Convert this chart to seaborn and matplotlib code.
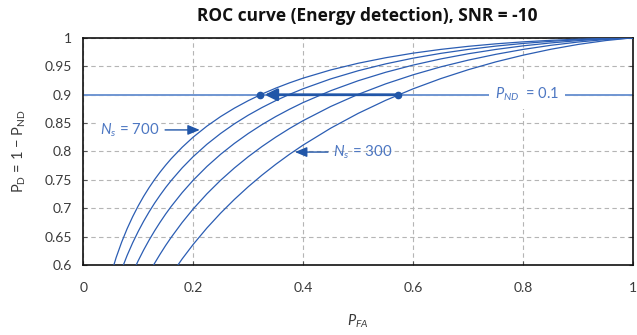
import matplotlib
matplotlib.use("Agg")
import matplotlib.pyplot as plt
import seaborn as sns
import pandas as pd

# ---- data ----
pfa = [0.01, 0.02, 0.03, 0.04, 0.05, 0.06, 0.07, 0.08, 0.09, 0.10, 0.11, 0.12, 0.13,
       0.14, 0.15, 0.16, 0.18, 0.20, 0.225, 0.25, 0.275, 0.30, 0.325, 0.35, 0.375,
       0.40, 0.45, 0.50, 0.55, 0.60, 0.65, 0.70, 0.75, 0.80, 0.85, 0.90, 0.95, 0.99, 1.00]
pd_300 = [0.1583, 0.2255, 0.2754, 0.3163, 0.3512, 0.3820, 0.4097, 0.4349, 0.4580, 0.4794, 0.4994,
          0.5180, 0.5356, 0.5522, 0.5680, 0.5829, 0.6107, 0.6362, 0.6652, 0.6915, 0.7156, 0.7378,
          0.7583, 0.7773, 0.7950, 0.8114, 0.8411, 0.8672, 0.8902, 0.9105, 0.9284, 0.9441, 0.9579,
          0.9698, 0.9801, 0.9887, 0.9955, 0.9994, 1.0]
pd_400 = [0.2035, 0.2805, 0.3357, 0.3798, 0.4170, 0.4492, 0.4777, 0.5033, 0.5266, 0.5480, 0.5677,
          0.5861, 0.6032, 0.6192, 0.6344, 0.6486, 0.6749, 0.6987, 0.7254, 0.7494, 0.7710, 0.7907,
          0.8087, 0.8252, 0.8404, 0.8544, 0.8793, 0.9007, 0.9192, 0.9352, 0.9491, 0.9610, 0.9712,
          0.9799, 0.9871, 0.9929, 0.9973, 0.9997, 1.0]
pd_500 = [0.2491, 0.3337, 0.3926, 0.4387, 0.4769, 0.5095, 0.5381, 0.5636, 0.5865, 0.6073, 0.6264,
          0.6440, 0.6603, 0.6755, 0.6898, 0.7031, 0.7275, 0.7493, 0.7736, 0.7951, 0.8143, 0.8316,
          0.8473, 0.8615, 0.8744, 0.8863, 0.9071, 0.9247, 0.9396, 0.9523, 0.9631, 0.9722, 0.9798,
          0.9862, 0.9913, 0.9954, 0.9983, 0.9998, 1.0]
pd_600 = [0.2945, 0.3850, 0.4462, 0.4933, 0.5316, 0.5640, 0.5921, 0.6169, 0.6390, 0.6589, 0.6771,
          0.6937, 0.7091, 0.7232, 0.7365, 0.7487, 0.7711, 0.7909, 0.8127, 0.8318, 0.8488, 0.8639,
          0.8774, 0.8896, 0.9006, 0.9106, 0.9279, 0.9423, 0.9544, 0.9645, 0.9729, 0.9799, 0.9857,
          0.9904, 0.9941, 0.9969, 0.9989, 0.9999, 1.0]
pd_700 = [0.3394, 0.4340, 0.4964, 0.5435, 0.5814, 0.6131, 0.6402, 0.6640, 0.6850, 0.7039, 0.7210,
          0.7365, 0.7507, 0.7638, 0.7759, 0.7872, 0.8074, 0.8253, 0.8447, 0.8616, 0.8764, 0.8895,
          0.9012, 0.9116, 0.9209, 0.9293, 0.9437, 0.9555, 0.9652, 0.9733, 0.9799, 0.9853, 0.9897,
          0.9932, 0.9959, 0.9979, 0.9993, 0.9999, 1.0]
n_samples = [300, 400, 500, 600, 700]
pd_target = 0.9
pfa_op = [0.322, 0.573]   # operating points for Ns=700 and Ns=300
xticks = [0, 0.2, 0.4, 0.6, 0.8, 1]
xticklabels = ["0", "0.2", "0.4", "0.6", "0.8", "1"]
yticks = [0.6, 0.65, 0.7, 0.75, 0.8, 0.85, 0.9, 0.95, 1.0]
yticklabels = ["0.6", "0.65", "0.7", "0.75", "0.8", "0.85", "0.9", "0.95", "1"]

series = [pd_300, pd_400, pd_500, pd_600, pd_700]
rows = []
for n, vals in zip(n_samples, series):
    for x, y in zip(pfa, vals):
        rows.append({"pfa": x, "pd": y, "N": n})
df = pd.DataFrame(rows)

sns.set_theme(style="white")
plt.rcParams["font.family"] = ["Lato", "DejaVu Sans"]
plt.rcParams["mathtext.fontset"] = "custom"
plt.rcParams["mathtext.rm"] = "Lato"
plt.rcParams["mathtext.it"] = "Lato:italic"
plt.rcParams["mathtext.bf"] = "Lato:bold"

CURVE = "#2b5db3"
LIGHT = "#7096d2"
DARK = "#2156a8"
TXT = "#3a3a3a"
ANN = "#4d77c2"

fig = plt.figure(figsize=(6.37, 3.35), dpi=100)
ax = fig.add_axes([0.1305, 0.209, 0.8637, 0.6776])

sns.lineplot(data=df, x="pfa", y="pd", hue="N", palette=[CURVE] * 5,
             estimator=None, sort=True, legend=False, linewidth=0.9, ax=ax, zorder=3)

ax.set_xlim(0, 1)
ax.set_ylim(0.6, 1.0)
ax.set_xticks(xticks)
ax.set_xticklabels(xticklabels)
ax.set_yticks(yticks)
ax.set_yticklabels(yticklabels)
ax.tick_params(axis="both", direction="in", length=3, width=0.8, colors="#555555",
               labelcolor=TXT, labelsize=10, top=False, right=True, left=True, bottom=True)
ax.tick_params(axis="x", pad=12)
ax.tick_params(axis="y", pad=8)
ax.grid(True, linestyle=(0, (4, 3)), color="#b5b5b5", linewidth=0.8, zorder=0)
for s in ax.spines.values():
    s.set_color("#111111")
    s.set_linewidth(1.2)

# horizontal target line
ax.axhline(pd_target, color=LIGHT, linewidth=1.4, zorder=2)
ax.text(0.807, pd_target, "$P_{ND}$  = 0.1", ha="center", va="center", fontsize=10.5,
        color=ANN, zorder=4,
        bbox=dict(boxstyle="square,pad=0.4", facecolor="white", edgecolor="none"))

# arrow between operating points
ax.annotate("", xy=(0.330, pd_target), xytext=(pfa_op[1], pd_target),
            arrowprops=dict(arrowstyle="-|>,head_length=0.6,head_width=0.3", lw=2.0,
                            color=DARK, shrinkA=0, shrinkB=0), zorder=5)
ax.plot(pfa_op, [pd_target, pd_target], "o", color=DARK, markersize=4.5, zorder=6)

# Ns annotations
ax.text(0.139, 0.838, "$N_s$ = 700", ha="right", va="center", fontsize=10.8, color=ANN,
        zorder=4, bbox=dict(boxstyle="square,pad=0.1", facecolor="white", edgecolor="none"))
ax.annotate("", xy=(0.212, 0.838), xytext=(0.149, 0.838),
            arrowprops=dict(arrowstyle="-|>,head_length=0.6,head_width=0.25", lw=1.0,
                            color=DARK, shrinkA=0, shrinkB=0), zorder=5)
ax.text(0.454, 0.799, "$N_s$ = 300", ha="left", va="center", fontsize=10.8, color=ANN, zorder=4)
ax.annotate("", xy=(0.385, 0.799), xytext=(0.445, 0.799),
            arrowprops=dict(arrowstyle="-|>,head_length=0.6,head_width=0.25", lw=1.0,
                            color=DARK, shrinkA=0, shrinkB=0), zorder=5)

ax.set_xlabel("$P_{FA}$", fontsize=10.5, color=TXT, labelpad=14)
ax.set_ylabel("P$_\\mathrm{D}$ = 1 − P$_\\mathrm{ND}$", fontsize=10.5, color=TXT, labelpad=12)
ax.set_title("ROC curve (Energy detection), SNR = -10", fontsize=12.5, fontweight="bold",
             color="#111111", pad=12, x=0.516, fontfamily=["Open Sans", "DejaVu Sans"])

fig.savefig("out.png", dpi=100)
